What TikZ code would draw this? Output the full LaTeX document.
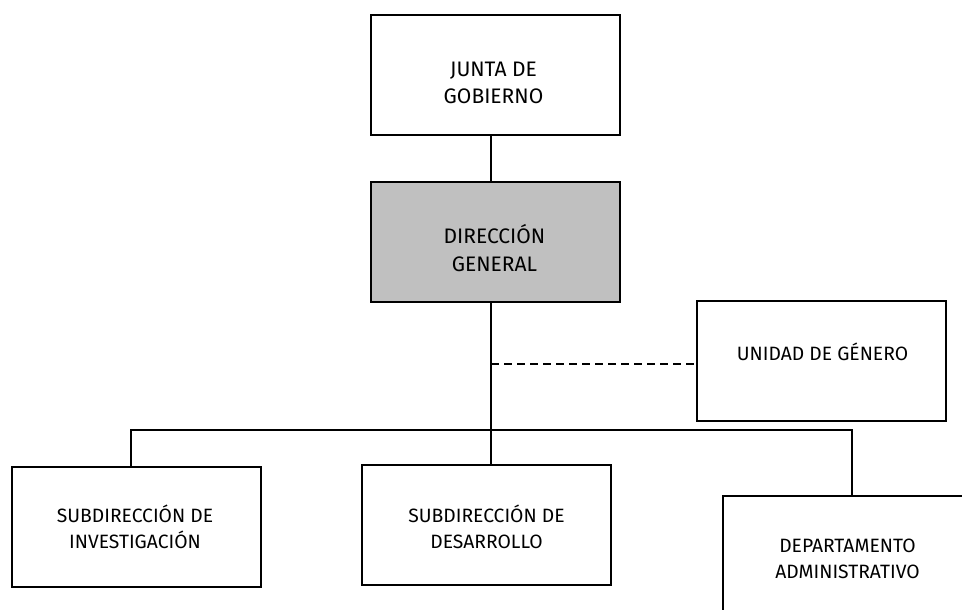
\documentclass[tikz,border=0pt]{standalone}
\usepackage{fontspec}
\setmainfont{Fira Sans}
\definecolor{grisdg}{HTML}{C0C0C0}

\begin{document}
\begin{tikzpicture}[x = 1pt, y = -1pt,
  caja/.style = {draw, line width = 1.5pt, minimum width = 249pt, minimum height = 120pt, inner sep = 0pt},
  grande/.style = {align = center, font = \fontsize{21}{27.5}\selectfont},
  chico/.style = {align = center, font = \fontsize{19.3}{25.5}\selectfont},
  linea/.style = {line width = 1.5pt}]
\clip (0,0) rectangle (962,610);

\node[caja] (jg) at (495.5,75) {};
\node[caja, fill = grisdg] (dg) at (495.5,242) {};
\node[caja] (ug) at (821.5,361) {};
\node[caja] (si) at (136.5,527) {};
\node[caja] (sd) at (486.5,525) {};
\node[caja] (da) at (847.5,556) {};

\node[grande] (tjg) at (493.5,83) {JUNTA DE\\GOBIERNO};
\node[grande] (tdg) at (494.5,248) {DIRECCIÓN\\GENERAL};
\node[chico] (tug) at (822.5,352) {UNIDAD DE GÉNERO};
\node[chico] (tsi) at (135,527) {SUBDIRECCIÓN DE\\INVESTIGACIÓN};
\node[chico] (tsd) at (486.5,527) {SUBDIRECCIÓN DE\\DESARROLLO};
\node[chico] (tda) at (847.5,559) {DEPARTAMENTO\\ADMINISTRATIVO};

\coordinate (c1) at (131,430);
\coordinate (c2) at (491,430);
\coordinate (c3) at (852,430);
\coordinate (c4) at (491,364);

\draw [linea] (jg.south -| c2) -- (dg.north -| c2);
\draw [linea] (dg.south -| c2) -- (sd.north -| c2);
\draw [linea] (si.north -| c1) -- (c1) -- (c3) -- (da.north -| c3);
\draw [linea, dash pattern = on 8pt off 5pt] (c4) -- (c4 -| ug.west);
\end{tikzpicture}
\end{document}
